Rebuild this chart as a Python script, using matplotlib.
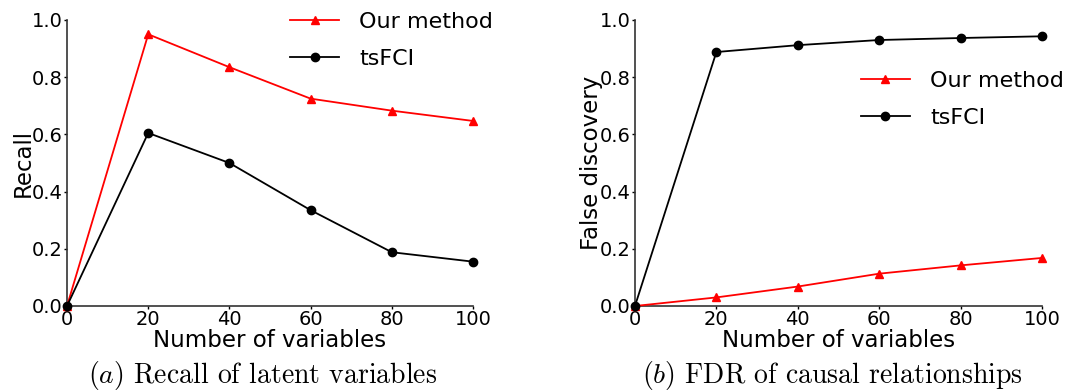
import matplotlib
matplotlib.use("Agg")
import matplotlib.pyplot as plt

n_vars = [0, 20, 40, 60, 80, 100]

recall_ours = [0.0, 0.950, 0.835, 0.725, 0.683, 0.647]
recall_tsfci = [0.0, 0.605, 0.500, 0.335, 0.188, 0.155]

fdr_ours = [0.0, 0.030, 0.068, 0.113, 0.142, 0.168]
fdr_tsfci = [0.0, 0.888, 0.912, 0.930, 0.937, 0.943]

plt.rcParams["mathtext.fontset"] = "cm"

fig = plt.figure(figsize=(10.81, 3.92), dpi=100)
ax1 = fig.add_axes([0.062, 0.2194, 0.3756, 0.7296])
ax2 = fig.add_axes([0.5874, 0.2194, 0.3765, 0.7296])


def draw(ax, ours, tsfci, ylabel, legend_anchor):
    ax.plot(n_vars, ours, color="red", marker="^", markersize=6, lw=1.3,
            label="Our method", clip_on=False, zorder=3)
    ax.plot(n_vars, tsfci, color="black", marker="o", markersize=6, lw=1.3,
            label="tsFCI", clip_on=False, zorder=3)
    ax.set_xlim(0, 100)
    ax.set_ylim(0, 1.0)
    ax.set_xticks(n_vars)
    ax.set_yticks([0, 0.2, 0.4, 0.6, 0.8, 1.0])
    ax.set_yticklabels(["0.0", "0.2", "0.4", "0.6", "0.8", "1.0"])
    for s in ["top", "right"]:
        ax.spines[s].set_visible(False)
    for s in ["left", "bottom"]:
        ax.spines[s].set_color("#333333")
        ax.spines[s].set_linewidth(1.2)
    ax.tick_params(length=2, width=1, pad=1, labelsize=14)
    ax.set_xlabel("Number of variables", fontsize=16.5, labelpad=0)
    ax.set_ylabel(ylabel, fontsize=16.5, labelpad=-2)
    ax.legend(loc="upper left", bbox_to_anchor=legend_anchor,
              bbox_transform=fig.transFigure, frameon=False, fontsize=16,
              handlelength=2.2, handletextpad=0.9, labelspacing=0.75)


draw(ax1, recall_ours, recall_tsfci, "Recall", (0.250, 1.02))
draw(ax2, fdr_ours, fdr_tsfci, "False discovery", (0.778, 0.87))

fig.text(0.243, 0.043, r"$(a)$ Recall of latent variables", family="cmr10",
         fontsize=20, ha="center", va="center")
fig.text(0.77, 0.043, r"$(b)$ FDR of causal relationships", family="cmr10",
         fontsize=20, ha="center", va="center")

fig.savefig("out.png", dpi=100)
